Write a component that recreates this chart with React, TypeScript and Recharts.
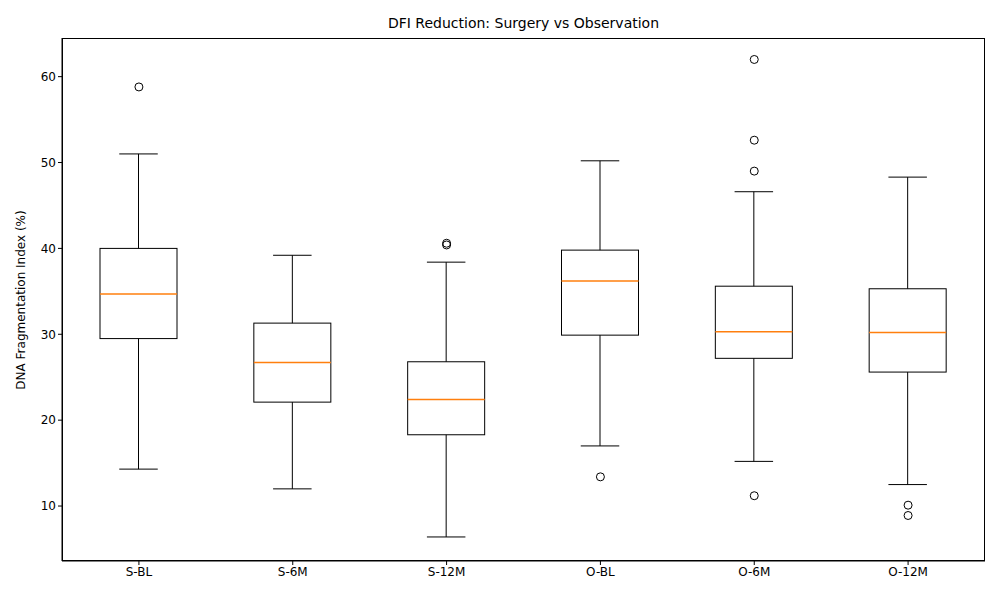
import { ComposedChart, Bar, Scatter, XAxis, YAxis } from 'recharts';

const categories = ['S-BL', 'S-6M', 'S-12M', 'O-BL', 'O-6M', 'O-12M'];
const whiskerLow = [14.3, 12.0, 6.4, 17.0, 15.2, 12.5];
const q1 = [29.5, 22.1, 18.3, 29.9, 27.2, 25.6];
const medians = [34.7, 26.7, 22.4, 36.2, 30.3, 30.2];
const q3 = [40.0, 31.3, 26.8, 39.8, 35.6, 35.3];
const whiskerHigh = [51.0, 39.2, 38.4, 50.2, 46.6, 48.3];
const outliers: [string, number][] = [
  ['S-BL', 58.8],
  ['S-12M', 40.4],
  ['S-12M', 40.6],
  ['O-BL', 13.4],
  ['O-6M', 11.2],
  ['O-6M', 49.0],
  ['O-6M', 52.6],
  ['O-6M', 62.0],
  ['O-12M', 10.1],
  ['O-12M', 8.9],
];
const yTicks = [10, 20, 30, 40, 50, 60];

const data = categories.map((name, i) => ({
  name,
  min: whiskerLow[i],
  q1: q1[i],
  med: medians[i],
  q3: q3[i],
  max: whiskerHigh[i],
}));
const outlierData = outliers.map(([name, v]) => ({ name, v }));

const BoxShape = (props: any) => {
  const { x, y, width, height, payload } = props;
  const { min, max } = payload;
  const py = (v: number) => y + ((max - v) / (max - min)) * height;
  const cx = x + width / 2;
  const cap = width / 4;
  return (
    <g>
      <line x1={cx} x2={cx} y1={py(max)} y2={py(payload.q3)} stroke="#000" />
      <line x1={cx} x2={cx} y1={py(payload.q1)} y2={py(min)} stroke="#000" />
      <line x1={cx - cap} x2={cx + cap} y1={py(max)} y2={py(max)} stroke="#000" />
      <line x1={cx - cap} x2={cx + cap} y1={py(min)} y2={py(min)} stroke="#000" />
      <rect x={x} y={py(payload.q3)} width={width} height={py(payload.q1) - py(payload.q3)} fill="none" stroke="#000" />
      <line x1={x} x2={x + width} y1={py(payload.med)} y2={py(payload.med)} stroke="#ff7f0e" strokeWidth={1.5} />
    </g>
  );
};

const Ring = (props: any) => <circle cx={props.cx} cy={props.cy} r={4} fill="none" stroke="#000" />;

export default function App() {
  return (
    <div style={{ position: 'absolute', left: 0, top: 0, width: 1000, height: 600, background: '#fff', fontFamily: 'DejaVu Sans' }}>
      <div style={{ position: 'absolute', left: 62, width: 923, top: 15, textAlign: 'center', fontSize: 14 }}>
        DFI Reduction: Surgery vs Observation
      </div>
      <div
        style={{
          position: 'absolute', left: 21, top: 300, fontSize: 12, whiteSpace: 'nowrap',
          transform: 'translate(-50%, -50%) rotate(-90deg)',
        }}
      >
        DNA Fragmentation Index (%)
      </div>
      <ComposedChart width={1000} height={600} data={data} margin={{ top: 38, right: 15, bottom: 0, left: 0 }} barCategoryGap={0}>
        <XAxis dataKey="name" allowDuplicatedCategory={false} height={39} stroke="#000" tickSize={4}
          tick={{ fill: '#000', fontSize: 12 }} />
        <YAxis type="number" domain={[3.6, 64.5]} ticks={yTicks} width={62} stroke="#000" tickSize={4}
          tick={{ fill: '#000', fontSize: 12 }} allowDataOverflow />
        <Bar dataKey={(d: any) => [d.min, d.max]} barSize={77} shape={BoxShape} isAnimationActive={false} />
        <Scatter data={outlierData} dataKey="v" shape={Ring} isAnimationActive={false} />
      </ComposedChart>
      <div style={{ position: 'absolute', left: 62, top: 38, width: 923, height: 523, boxSizing: 'border-box', border: '1px solid #000', pointerEvents: 'none' }} />
    </div>
  );
}
